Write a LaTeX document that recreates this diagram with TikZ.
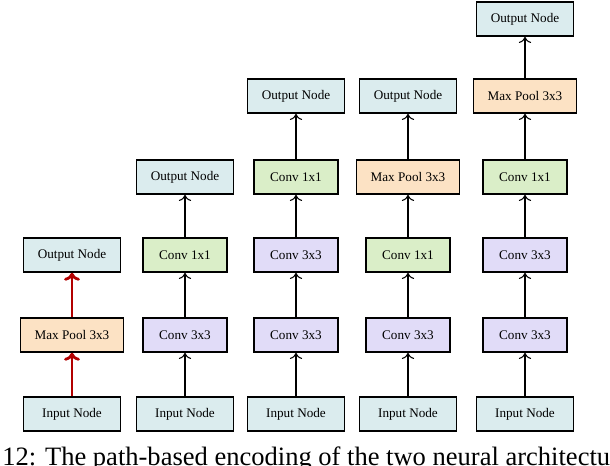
\documentclass[tikz,border=0pt]{standalone}
\usepackage{fontspec}
\setmainfont{Liberation Serif}
\usetikzlibrary{arrows.meta}

\definecolor{ioblue}{RGB}{219,236,238}
\definecolor{poolorange}{RGB}{252,226,196}
\definecolor{oneonegreen}{RGB}{218,238,200}
\definecolor{threelilac}{RGB}{225,220,248}
\definecolor{pathred}{RGB}{178,0,0}

\tikzset{
	box/.style={draw, line width=0.9pt, minimum height=0.68cm, inner sep=0pt,
		font=\fontsize{7.5}{9}\selectfont},
	ionode/.style={box, fill=ioblue, minimum width=1.94cm},
	poolnode/.style={box, fill=poolorange, minimum width=2.06cm},
	oneone/.style={box, fill=oneonegreen, minimum width=1.68cm},
	threethree/.style={box, fill=threelilac, minimum width=1.68cm},
	arr/.style={-{To[length=3.5pt,width=7pt]}, line width=0.6pt},
	redarr/.style={-{To[length=4.5pt,width=9pt]}, draw=pathred, line width=1.6pt}
}

\begin{document}
\begin{tikzpicture}[x=0.02cm, y=-0.02cm]

	\useasboundingbox (0,0) rectangle (610,466);
	\clip (0,0) rectangle (610,466);

	% Cami 1
	\node[ionode] (inA) at (72,414) {Input Node};
	\node[poolnode] (poolA) at (72,335) {Max Pool 3x3};
	\node[ionode] (outA) at (72,255) {Output Node};

	\draw[redarr] (inA) -- (poolA);
	\draw[redarr] (poolA) -- (outA);

	% Cami 2
	\node[ionode] (inB) at (185,414) {Input Node};
	\node[threethree] (convB1) at (185,335) {Conv 3x3};
	\node[oneone] (convB2) at (185,255) {Conv 1x1};
	\node[ionode] (outB) at (185,177) {Output Node};

	\draw[arr] (inB) -- (convB1);
	\draw[arr] (convB1) -- (convB2);
	\draw[arr] (convB2) -- (outB);

	% Cami 3
	\node[ionode] (inC) at (296,414) {Input Node};
	\node[threethree] (convC1) at (296,335) {Conv 3x3};
	\node[threethree] (convC2) at (296,255) {Conv 3x3};
	\node[oneone] (convC3) at (296,177) {Conv 1x1};
	\node[ionode] (outC) at (296,96) {Output Node};

	\draw[arr] (inC) -- (convC1);
	\draw[arr] (convC1) -- (convC2);
	\draw[arr] (convC2) -- (convC3);
	\draw[arr] (convC3) -- (outC);

	% Cami 4
	\node[ionode] (inD) at (408,414) {Input Node};
	\node[threethree] (convD1) at (408,335) {Conv 3x3};
	\node[oneone] (convD2) at (408,255) {Conv 1x1};
	\node[poolnode] (poolD) at (408,177) {Max Pool 3x3};
	\node[ionode] (outD) at (408,96) {Output Node};

	\draw[arr] (inD) -- (convD1);
	\draw[arr] (convD1) -- (convD2);
	\draw[arr] (convD2) -- (poolD);
	\draw[arr] (poolD) -- (outD);

	% Cami 5
	\node[ionode] (inE) at (525,414) {Input Node};
	\node[threethree] (convE1) at (525,335) {Conv 3x3};
	\node[threethree] (convE2) at (525,255) {Conv 3x3};
	\node[oneone] (convE3) at (525,177) {Conv 1x1};
	\node[poolnode] (poolE) at (525,96) {Max Pool 3x3};
	\node[ionode] (outE) at (525,19) {Output Node};

	\draw[arr] (inE) -- (convE1);
	\draw[arr] (convE1) -- (convE2);
	\draw[arr] (convE2) -- (convE3);
	\draw[arr] (convE3) -- (poolE);
	\draw[arr] (poolE) -- (outE);

	% Peu
	\node[anchor=base west, inner sep=0pt, font=\fontsize{15.1}{18}\selectfont]
		(caption) at (2,466) {12: The path-based encoding of the two neural architectures};

\end{tikzpicture}
\end{document}
